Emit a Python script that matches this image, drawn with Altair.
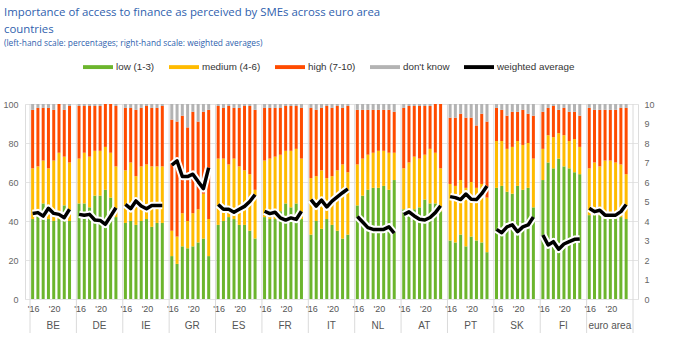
import altair as alt
import pandas as pd

countries = ["BE", "DE", "IE", "GR", "ES", "FR", "IT", "NL", "AT", "PT", "SK", "FI", "euro area"]
years = [2016, 2017, 2018, 2019, 2020, 2021, 2022, 2023]
tick_years = {2016: "'16", 2020: "'20"}

# cumulative boundaries (percentages)
low = {
    "BE": [41, 44, 49, 41, 40, 41, 48, 40],
    "DE": [49, 49, 47, 53, 53, 56, 52, 42],
    "IE": [39, 40, 38, 40, 41, 37, 39, 39],
    "GR": [22, 18, 27, 26, 27, 29, 31, 22],
    "ES": [38, 40, 42, 41, 38, 38, 35, 31],
    "FR": [42, 41, 41, 45, 49, 47, 49, 41],
    "IT": [33, 40, 36, 41, 38, 35, 31, 33],
    "NL": [48, 53, 56, 57, 57, 58, 56, 61],
    "AT": [46, 45, 46, 47, 51, 49, 49, 45],
    "PT": [30, 29, 33, 27, 32, 30, 29, 24],
    "SK": [57, 58, 55, 54, 58, 56, 57, 47],
    "FI": [61, 70, 67, 72, 68, 67, 65, 64],
    "euro area": [43, 43, 43, 41, 41, 41, 42, 41],
}
low_medium = {
    "BE": [67, 68, 71, 67, 71, 75, 73, 70],
    "DE": [72, 75, 73, 76, 76, 78, 75, 68],
    "IE": [66, 70, 63, 68, 69, 68, 68, 68],
    "GR": [35, 32, 44, 40, 44, 46, 54, 41],
    "ES": [72, 72, 69, 72, 68, 66, 64, 56],
    "FR": [71, 72, 73, 74, 76, 76, 77, 72],
    "IT": [62, 63, 66, 62, 63, 66, 69, 65],
    "NL": [69, 72, 74, 75, 76, 76, 75, 75],
    "AT": [67, 70, 73, 72, 74, 77, 75, 67],
    "PT": [59, 58, 61, 57, 60, 57, 59, 52],
    "SK": [81, 81, 77, 78, 81, 79, 80, 72],
    "FI": [77, 84, 83, 85, 84, 81, 82, 78],
    "euro area": [67, 70, 68, 71, 71, 70, 69, 64],
}
answered = {
    "BE": [97, 98, 98, 98, 97, 100, 97, 99],
    "DE": [99, 99, 99, 99, 99, 100, 100, 99],
    "IE": [98, 98, 97, 98, 99, 98, 98, 99],
    "GR": [92, 91, 94, 88, 96, 91, 96, 97],
    "ES": [99, 98, 99, 98, 98, 99, 99, 97],
    "FR": [98, 98, 98, 98, 99, 99, 99, 98],
    "IT": [98, 97, 98, 99, 98, 99, 98, 99],
    "NL": [97, 97, 97, 97, 97, 97, 97, 96],
    "AT": [98, 99, 99, 99, 99, 99, 100, 100],
    "PT": [93, 93, 95, 93, 93, 89, 95, 91],
    "SK": [98, 97, 94, 96, 96, 97, 95, 94],
    "FI": [96, 98, 99, 97, 98, 96, 96, 94],
    "euro area": [98, 97, 97, 97, 97, 97, 98, 98],
}
weighted_avg = {
    "BE": [4.39, 4.43, 4.25, 4.65, 4.39, 4.34, 4.17, 4.60],
    "DE": [4.34, 4.29, 4.34, 4.05, 4.03, 3.83, 4.25, 4.68],
    "IE": [4.85, 4.63, 5.03, 4.77, 4.63, 4.80, 4.80, 4.80],
    "GR": [6.86, 7.08, 6.28, 6.28, 6.40, 6.02, 5.66, 6.74],
    "ES": [4.85, 4.60, 4.60, 4.45, 4.60, 4.75, 5.00, 5.35],
    "FR": [4.50, 4.38, 4.45, 4.16, 4.05, 4.16, 4.08, 4.50],
    "IT": [5.10, 4.76, 5.07, 4.72, 5.02, 5.24, 5.45, 5.65],
    "NL": [4.23, 3.95, 3.66, 3.57, 3.57, 3.57, 3.70, 3.38],
    "AT": [4.33, 4.47, 4.26, 4.09, 4.05, 4.18, 4.43, 4.78],
    "PT": [5.25, 5.20, 5.10, 5.38, 5.12, 5.10, 5.40, 5.80],
    "SK": [3.57, 3.40, 3.70, 3.80, 3.45, 3.70, 3.80, 4.20],
    "FI": [3.28, 2.77, 2.94, 2.55, 2.82, 2.94, 3.06, 3.08],
    "euro area": [4.65, 4.48, 4.55, 4.30, 4.30, 4.30, 4.48, 4.85],
}

cats = ["low (1-3)", "medium (4-6)", "high (7-10)", "don't know", "weighted average"]
colors = ["#6cb52d", "#ffbb00", "#ff4b00", "#b3b3b3", "#000000"]

GROUP = 8.8  # slots per country group (8 bars + gap)

bar_rows, line_rows, tick_rows, name_rows = [], [], [], []
for g, c in enumerate(countries):
    for i, yr in enumerate(years):
        pos = g * GROUP + i + 0.5
        lo, lm, tot = low[c][i], low_medium[c][i], answered[c][i]
        parts = [lo, lm - lo, tot - lm, 100 - tot]
        for k, v in enumerate(parts):
            bar_rows.append({"country": c, "year": yr, "pos": pos, "cat": cats[k], "order": k, "value": v})
        line_rows.append({"country": c, "year": yr, "pos": pos, "wa": weighted_avg[c][i]})
        if yr in tick_years:
            tick_rows.append({"pos": pos, "label": tick_years[yr]})
    name_rows.append({"pos": g * GROUP + GROUP / 2, "label": c})
sep_rows = [{"pos": g * GROUP} for g in range(len(countries) + 1)]

bars_df = pd.DataFrame(bar_rows)
line_df = pd.DataFrame(line_rows)
ticks_df = pd.DataFrame(tick_rows)
names_df = pd.DataFrame(name_rows)
seps_df = pd.DataFrame(sep_rows)

W, H = 613, 195
xscale = alt.Scale(domain=[0, len(countries) * GROUP], nice=False, zero=False)
X = lambda: alt.X("pos:Q", scale=xscale, axis=None)

AXF = "Liberation Sans"
legend_path = "M-1,-0.13L1,-0.13L1,0.13L-1,0.13Z"

bars = alt.Chart(bars_df).mark_bar(width=3).encode(
    x=X(),
    y=alt.Y("value:Q", stack="zero", scale=alt.Scale(domain=[0, 100], nice=False),
            axis=alt.Axis(values=[0, 20, 40, 60, 80, 100], grid=True, gridColor="#e4e4e4",
                          domain=False, ticks=False, labelPadding=7, labelFontSize=9,
                          labelColor="#666666", labelFont=AXF, title=None)),
    color=alt.Color("cat:N", scale=alt.Scale(domain=cats, range=colors),
                    legend=alt.Legend(orient="none", legendX=58, legendY=-52, direction="horizontal",
                                      columns=5, title=None, symbolType=legend_path, symbolSize=900,
                                      symbolStrokeWidth=0, labelFontSize=9.8, labelFont=AXF,
                                      labelColor="#333333", columnPadding=14, labelOffset=3)),
    order=alt.Order("order:Q"),
)

seps = alt.Chart(seps_df).mark_rule(color="#dadada", strokeWidth=1).encode(
    x=X(), y=alt.value(0), y2=alt.value(H + 34)
)

ticks = alt.Chart(ticks_df).mark_text(fontSize=9, font=AXF, color="#555555", baseline="middle", dx=1).encode(
    x=X(), y=alt.value(H + 10), text="label:N"
)
names = alt.Chart(names_df).mark_text(fontSize=10, font=AXF, color="#555555", baseline="middle").encode(
    x=X(), y=alt.value(H + 27), text="label:N"
)

left = alt.layer(seps, bars, ticks, names)

wa_y = alt.Y("wa:Q", scale=alt.Scale(domain=[0, 10], nice=False),
             axis=alt.Axis(orient="right", values=list(range(11)), grid=False, domain=False, ticks=False,
                           labelPadding=6, labelFontSize=9, labelColor="#666666", labelFont=AXF, title=None))
halo = alt.Chart(line_df).mark_line(color="white", strokeWidth=7.5, strokeJoin="round").encode(
    x=X(), y=wa_y, detail="country:N"
)
line = alt.Chart(line_df).mark_line(color="black", strokeWidth=3.5, strokeJoin="round").encode(
    x=X(), y=wa_y, detail="country:N"
)
right = alt.layer(halo, line)

chart = alt.layer(left, right).resolve_scale(y="independent").properties(
    width=W, height=H,
    autosize=alt.AutoSizeParams(type="none"),
    padding={"left": 25, "top": 104, "right": 42, "bottom": 55},
    title=alt.Title(
        text=["Importance of access to finance as perceived by SMEs across euro area", "countries"],
        subtitle="(left-hand scale: percentages; right-hand scale: weighted averages)",
        anchor="start", frame="group", dx=-21, offset=8, dy=3,
        font="Open Sans", fontSize=11.4, fontWeight="normal", color="#2f5fae", lineHeight=17,
        subtitleFont="Open Sans", subtitleFontSize=8.4, subtitleColor="#2f5fae", subtitlePadding=3,
    ),
).configure_view(stroke=None).configure(background="white")

chart.save("out.html", embed_options={"renderer": "svg", "actions": False})
